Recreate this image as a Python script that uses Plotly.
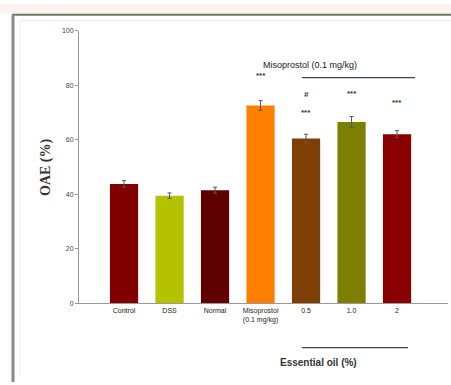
import plotly.graph_objects as go

# Groups, mean OAE values and error margins
categories = ["Control", "DSS", "Normal", "Misoprostol<br>(0.1 mg/kg)", "0.5", "1.0", "2"]
oae_values = [43.8, 39.5, 41.5, 72.5, 60.4, 66.5, 62.0]
oae_errors = [1.2, 1.0, 1.1, 1.8, 1.6, 2.0, 1.3]
bar_colors = ["#800000", "#b5c200", "#5e0000", "#ff7f00", "#7e3f05", "#7c7f00", "#880000"]

# Significance marks: (group index, text, height)
sig_marks = [(3, "***", 83.5), (4, "#", 76.5), (4, "***", 70.0), (5, "***", 77.0), (6, "***", 73.5)]

y_ticks = [0, 20, 40, 60, 80, 100]

W, H = 451, 385
x_pos = list(range(len(categories)))

fig = go.Figure()
fig.add_trace(go.Bar(
    x=x_pos, y=oae_values, width=0.62,
    marker=dict(color=bar_colors, line=dict(width=0)),
    error_y=dict(type="data", array=oae_errors, visible=True,
                 color="#555566", thickness=1, width=2),
    showlegend=False,
))

for idx, txt, h in sig_marks:
    fig.add_annotation(x=idx, y=h, text="<b>" + txt + "</b>", showarrow=False,
                       font=dict(family="Liberation Sans", size=8, color="#333"),
                       xref="x", yref="y")

def px(xp):
    return xp / W

def py(yp):
    return 1 - yp / H

shapes = [
    # figure frame
    dict(type="rect", xref="paper", yref="paper", x0=0, x1=1, y0=py(10), y1=1,
         fillcolor="#f9f4ee", line=dict(width=0), layer="below"),
    dict(type="line", xref="paper", yref="paper", x0=px(12), x1=1, y0=py(11), y1=py(11),
         line=dict(color="#6d7a6a", width=2)),
    dict(type="line", xref="paper", yref="paper", x0=px(13), x1=px(13), y0=py(11), y1=0,
         line=dict(color="#8a8a8a", width=3)),
    dict(type="line", xref="paper", yref="paper", x0=px(20), x1=px(20), y0=py(17), y1=py(378),
         line=dict(color="#ececec", width=1)),
    dict(type="line", xref="paper", yref="paper", x0=px(20), x1=1, y0=py(17), y1=py(17),
         line=dict(color="#ececec", width=1)),
    # group brackets
    dict(type="line", xref="paper", yref="paper", x0=px(302), x1=px(415), y0=py(75), y1=py(75),
         line=dict(color="#444", width=1.2)),
    dict(type="line", xref="paper", yref="paper", x0=px(302), x1=px(408), y0=py(350), y1=py(350),
         line=dict(color="#444", width=1.2)),
]

fig.add_annotation(xref="paper", yref="paper", x=px(359), y=py(55),
                   text="Misoprostol (0.1 mg/kg)", showarrow=False,
                   font=dict(family="Liberation Sans", size=9, color="#222"))
fig.add_annotation(xref="paper", yref="paper", x=px(359), y=py(373),
                   text="<b>Essential oil (%)</b>", showarrow=False,
                   font=dict(family="Liberation Sans", size=10, color="#333"))
fig.add_annotation(xref="paper", yref="paper", x=px(36), y=py(166),
                   text="<b>OAE (%)</b>", showarrow=False, textangle=-90,
                   font=dict(family="Liberation Serif", size=14, color="#333"))

fig.update_layout(
    width=W, height=H,
    margin=dict(l=0, r=0, t=0, b=0),
    paper_bgcolor="white", plot_bgcolor="white",
    shapes=shapes,
    bargap=0.3,
    xaxis=dict(domain=[px(79), px(448)], range=[-0.99, 7.12],
               tickvals=x_pos, ticktext=categories,
               tickfont=dict(family="Liberation Sans", size=7, color="#222"),
               showline=True, linecolor="#999", linewidth=1,
               ticks="", showgrid=False, zeroline=False, fixedrange=True),
    yaxis=dict(domain=[py(305), py(27)], range=[0, 100],
               tickvals=y_ticks,
               tickfont=dict(family="Liberation Sans", size=7, color="#444"),
               showline=True, linecolor="#999", linewidth=1,
               ticks="outside", ticklen=3, tickcolor="#999",
               showgrid=False, zeroline=False),
)

fig.write_html("out.html")
